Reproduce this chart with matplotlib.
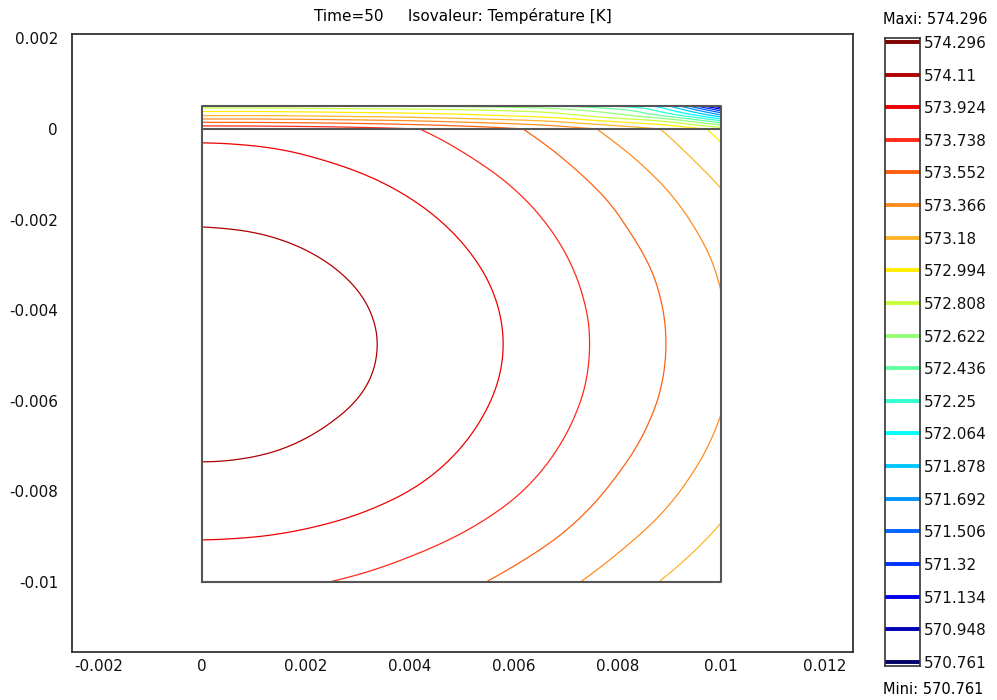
import numpy as np
import matplotlib
matplotlib.use("Agg")
import matplotlib.pyplot as plt
import matplotlib.tri as mtri
from matplotlib.ticker import FixedLocator, FuncFormatter

plt.rcParams["font.family"] = ["DejaVu Sans"]
plt.rcParams["axes.unicode_minus"] = False

# ---- data ----
title = "Time=50     Isovaleur: Température [K]"
levels = [570.761, 570.948, 571.134, 571.32, 571.506, 571.692, 571.878, 572.064,
          572.25, 572.436, 572.622, 572.808, 572.994, 573.18, 573.366, 573.552,
          573.738, 573.924, 574.11, 574.296]
t_max, t_min = 574.296, 570.761

# solid body, x in [0, 0.01], y in [-0.01, 0]  (estimated temperatures, K)
x_core = [0.0, 0.001, 0.002, 0.003, 0.004, 0.005, 0.006, 0.007, 0.008, 0.009, 0.010]
y_core = [-0.010, -0.009, -0.008, -0.007, -0.006, -0.005, -0.004, -0.003, -0.002, -0.001, 0.0]
T_core = [
    [573.789, 573.781, 573.755, 573.714, 573.660, 573.591, 573.504, 573.400, 573.280, 573.153, 573.009],
    [573.934, 573.925, 573.900, 573.859, 573.800, 573.728, 573.640, 573.536, 573.414, 573.288, 573.144],
    [574.055, 574.047, 574.022, 573.980, 573.922, 573.846, 573.755, 573.646, 573.521, 573.394, 573.250],
    [574.133, 574.125, 574.100, 574.058, 574.000, 573.925, 573.833, 573.724, 573.599, 573.472, 573.328],
    [574.183, 574.175, 574.149, 574.108, 574.049, 573.974, 573.882, 573.774, 573.649, 573.522, 573.378],
    [574.204, 574.196, 574.171, 574.129, 574.071, 573.995, 573.904, 573.795, 573.670, 573.543, 573.399],
    [574.197, 574.189, 574.164, 574.122, 574.063, 573.988, 573.897, 573.788, 573.663, 573.536, 573.380],
    [574.162, 574.153, 574.128, 574.086, 574.028, 573.953, 573.861, 573.752, 573.627, 573.500, 573.340],
    [574.098, 574.089, 574.064, 574.023, 573.964, 573.889, 573.797, 573.689, 573.563, 573.427, 573.262],
    [574.006, 573.997, 573.972, 573.930, 573.872, 573.797, 573.705, 573.591, 573.461, 573.314, 573.130],
    [573.885, 573.877, 573.852, 573.810, 573.751, 573.676, 573.573, 573.451, 573.311, 573.149, 572.930],
]

# thin top layer, y in [0, 0.0005]
x_layer = x_core
y_layer = [0.0, 0.00025, 0.0005]
T_layer = [
    [573.885, 573.877, 573.852, 573.810, 573.751, 573.676, 573.573, 573.451, 573.311, 573.149, 572.930],
    [573.29, 573.29, 573.27, 573.24, 573.20, 573.14, 573.07, 572.96, 572.78, 572.52, 571.95],
    [572.70, 572.70, 572.68, 572.66, 572.64, 572.60, 572.55, 572.45, 572.25, 571.90, 570.76],
]

xticks = [-0.002, 0, 0.002, 0.004, 0.006, 0.008, 0.01, 0.012]
yticks = [0.002, 0, -0.002, -0.004, -0.006, -0.008, -0.01]
dom_x = [0.0, 0.01]
dom_y = [-0.01, 0.0, 0.0005]

# level colours, low -> high
cols = ["#000066", "#0000b4", "#0000f0", "#0032ff", "#0064ff", "#0096ff", "#00c8ff",
        "#00ffff", "#32ffd2", "#64ffa0", "#96ff78", "#c8ff3c", "#ffee00", "#ffb428",
        "#ff8c1e", "#ff6010", "#ff2a1a", "#ee0000", "#b00000", "#800000"]


def smooth_contour(ax, xs, ys, T):
    X, Y = np.meshgrid(xs, ys)
    tri = mtri.Triangulation(X.ravel(), Y.ravel())
    z = np.asarray(T).ravel()
    interp = mtri.CubicTriInterpolator(tri, z, kind="min_E")
    tri_r, z_r = mtri.UniformTriRefiner(tri).refine_field(z, triinterpolator=interp, subdiv=3)
    ax.tricontour(tri_r, z_r, levels=levels, colors=cols, linewidths=0.9)


fs = 11
fig = plt.figure(figsize=(9.97, 7.0), dpi=100)
ax = fig.add_axes([72/997, 48/700, 781/997, 618/700])

smooth_contour(ax, x_core, y_core, T_core)
smooth_contour(ax, x_layer, y_layer, T_layer)

# domain outline
bc = "#555555"
ax.plot([dom_x[0], dom_x[1], dom_x[1], dom_x[0], dom_x[0]],
        [dom_y[0], dom_y[0], dom_y[2], dom_y[2], dom_y[0]], color=bc, lw=1.5)
ax.plot(dom_x, [dom_y[1], dom_y[1]], color=bc, lw=1.5)

ax.set_xlim(-0.002505, 0.012543)
ax.set_ylim(-0.011545, 0.002097)
ax.xaxis.set_major_locator(FixedLocator(xticks))
ax.yaxis.set_major_locator(FixedLocator(yticks))
fmt = FuncFormatter(lambda v, p: f"{v:g}")
ax.xaxis.set_major_formatter(fmt)
ax.yaxis.set_major_formatter(fmt)
ax.tick_params(length=0, labelsize=fs, colors="#111111")
ax.tick_params(axis="x", pad=5)
ax.tick_params(axis="y", pad=10)
for s in ax.spines.values():
    s.set_color("#333333"); s.set_linewidth(1.3)
ax.set_title(title, fontsize=fs, pad=9)

# level legend
lx = fig.add_axes([885/997, 34/700, 35/997, 628/700])
d = 0.186*4/32.6
for v, c in zip(levels, cols):
    lx.plot([0, 1], [v, v], color=c, lw=2.8, solid_capstyle="butt")
lx.set_xlim(0, 1)
lx.set_ylim(t_min - d, t_max + d)
lx.set_xticks([])
lx.yaxis.tick_right()
lx.set_yticks(levels)
lx.set_yticklabels([f"{v:g}" for v in levels])
lx.tick_params(length=0, labelsize=fs, pad=3, colors="#111111")
for s in lx.spines.values():
    s.set_color("#333333"); s.set_linewidth(1.2)
fig.text(883/997, 1-20/700, f"Maxi: {t_max:g}", fontsize=10.5, va="center", ha="left")
fig.text(883/997, 1-689/700, f"Mini: {t_min:g}", fontsize=10.5, va="center", ha="left")

fig.savefig("out.png", dpi=100, facecolor="white")
